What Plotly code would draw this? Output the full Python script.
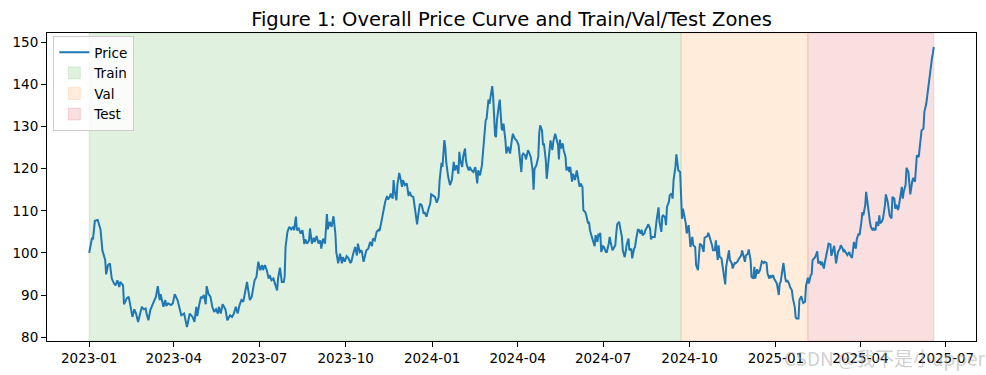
import pandas as pd
import plotly.graph_objects as go

# ---------------- data ----------------
start_date = "2023-01-01"
n_days = 900            # daily series length
train_frac = 0.70
val_frac = 0.15

# day offsets from start_date and the price read at each offset
days_a = [0, 1, 3, 4, 6, 9, 11, 12, 14, 17, 18, 20, 22, 24, 26, 28, 30, 32, 33, 36, 37, 40, 42, 44, 46, 48, 50,
          52, 54, 56, 58, 60, 61, 63, 65, 68, 71, 73, 75, 76, 79, 81, 82, 84, 87, 89, 91, 94, 97, 98, 101, 104,
          105, 107, 110, 112, 114, 115, 117, 119, 120, 122, 124, 125, 127, 129, 131, 133, 135, 137, 138, 140, 142]
price_a = [100.0, 101.0, 103.6, 103.2, 107.6, 107.8, 105.8, 105.6, 100.6, 98.3, 94.9, 97.1, 97.5, 93.9, 92.9,
           92.3, 93.5, 91.9, 93.1, 92.3, 87.8, 89.2, 89.6, 87.2, 84.8, 86.6, 85.5, 83.6, 85.6, 87.2, 86.6, 86.8,
           85.6, 84.0, 86.4, 87.8, 89.6, 92.1, 88.8, 90.2, 87.2, 88.8, 87.4, 88.0, 87.6, 88.0, 90.2, 88.8, 86.4,
           85.2, 85.6, 82.4, 83.4, 85.6, 84.8, 83.6, 87.2, 85.0, 87.6, 89.6, 89.2, 90.0, 87.8, 92.1, 90.2, 89.6,
           87.2, 86.0, 86.6, 85.6, 87.2, 85.6, 87.8]

days_b = [145, 147, 150, 152, 154, 156, 158, 160, 162, 164, 166, 168, 169, 171, 173, 175, 176, 178, 180, 182,
          184, 185, 187, 189, 191, 192, 194, 196, 198, 200, 201, 203, 205, 207, 208, 209, 211, 213, 215, 217,
          218, 220, 221, 223, 225, 227, 229, 230, 232, 234, 235, 237, 239, 240, 242, 244, 246, 247, 249, 251,
          253, 254, 256, 258, 260, 262, 263, 265, 267, 269, 270, 272, 274, 276, 278, 279, 281, 283, 285, 286,
          288, 290, 292, 294, 295, 297]
price_b = [86.6, 84.0, 85.2, 84.8, 85.6, 87.2, 85.6, 87.6, 88.8, 88.4, 90.4, 93.1, 91.5, 88.8, 89.6, 91.9, 93.5,
           94.3, 97.9, 95.9, 97.1, 95.9, 97.1, 95.9, 93.9, 94.7, 93.5, 93.9, 92.7, 91.1, 93.9, 96.5, 93.1, 93.1,
           94.3, 101.4, 105.0, 106.2, 105.6, 106.2, 105.4, 108.6, 105.4, 105.8, 104.6, 105.4, 102.1, 103.2, 102.2,
           103.0, 105.8, 102.2, 103.6, 102.6, 104.0, 102.2, 103.0, 101.0, 103.4, 102.2, 109.2, 105.6, 107.4, 106.2,
           108.7, 104.6, 100.2, 97.5, 99.8, 97.5, 99.0, 97.9, 99.2, 98.7, 97.6, 97.9, 99.8, 101.4, 99.4, 102.2,
           100.2, 100.6, 97.9, 99.8, 100.6, 101.0]

days_c = [299, 301, 302, 304, 306, 308, 309, 311, 313, 315, 317, 318, 320, 321, 323, 324, 325, 327, 328, 330,
          331, 333, 334, 336, 338, 340, 341, 343, 345, 347, 349, 350, 352, 354, 356, 357, 359, 361, 363, 364,
          366, 368, 370, 372, 373, 375, 376, 378, 379, 380, 382, 384, 386, 388, 389, 391, 393, 394, 395, 397,
          398, 400, 401, 402, 404, 405, 407, 409, 411, 412, 413, 414, 416, 418, 419, 420, 422, 423, 424, 425,
          426, 428, 429, 430, 431, 432, 433, 434, 436, 437, 438, 439, 440, 441, 443, 444, 446, 447, 448, 450, 451]
price_c = [102.6, 101.6, 103.4, 103.0, 105.0, 105.5, 105.2, 107.4, 110.1, 112.1, 113.5, 112.7, 113.3, 114.1,
           112.9, 117.3, 114.9, 112.5, 116.1, 119.0, 118.0, 115.7, 117.3, 116.1, 116.5, 113.5, 114.5, 113.5,
           113.3, 109.3, 106.8, 108.6, 111.7, 111.3, 109.3, 109.7, 108.6, 110.3, 111.7, 113.9, 113.5, 113.3,
           111.9, 113.3, 117.3, 121.4, 120.4, 126.8, 125.2, 121.6, 118.2, 116.1, 117.3, 121.6, 119.6, 120.8,
           118.8, 124.0, 122.0, 120.4, 122.8, 124.8, 122.0, 120.8, 119.6, 120.4, 119.6, 119.2, 120.4, 119.0,
           116.5, 119.6, 118.4, 120.8, 123.2, 127.5, 131.5, 131.9, 133.9, 136.4, 135.4, 137.8, 139.6, 137.0,
           132.3, 127.9, 127.5, 131.5, 135.0, 136.4, 133.1, 129.5, 129.1, 130.7, 126.8, 123.6, 125.2, 124.0,
           123.6, 127.1, 128.3]

days_d = [453, 455, 457, 458, 460, 461, 462, 464, 465, 467, 468, 470, 472, 473, 474, 476, 478, 479, 480, 482,
          483, 484, 486, 487, 489, 490, 491, 493, 494, 496, 497, 499, 500, 501, 502, 504, 505, 507, 508, 510,
          511, 512, 514, 515, 517, 518, 519, 521, 522, 523, 525, 526, 528, 529, 531, 532, 533, 535, 536, 538,
          539, 541, 542, 543, 544, 545, 547, 548, 550, 551, 553, 554, 555, 557, 558, 560, 561, 562, 564, 565,
          567, 568, 570, 571, 572, 574, 575, 577, 578, 580, 581, 582, 584, 585, 587, 588, 589, 591, 592, 594,
          595, 597, 598, 599, 601]
price_d = [127.1, 126.7, 125.6, 123.6, 119.2, 123.2, 123.6, 123.2, 122.2, 124.4, 124.0, 122.8, 119.6, 115.0,
           120.0, 120.8, 122.8, 128.3, 130.3, 129.1, 125.6, 126.0, 122.0, 117.6, 122.4, 124.0, 126.7, 124.4,
           126.4, 128.3, 127.1, 125.6, 122.2, 126.9, 124.8, 126.0, 124.4, 122.8, 119.6, 120.4, 119.2, 120.4,
           116.9, 118.8, 117.3, 118.4, 119.6, 116.9, 115.7, 116.5, 115.7, 110.1, 109.7, 109.0, 107.0, 107.4,
           105.4, 103.8, 103.0, 101.6, 104.2, 102.6, 104.6, 103.8, 104.8, 100.2, 101.6, 101.4, 100.2, 100.2,
           102.2, 103.8, 102.6, 100.6, 101.0, 101.8, 104.6, 106.8, 107.4, 106.3, 103.8, 100.6, 99.0, 100.2,
           101.8, 103.4, 100.6, 101.0, 98.7, 101.0, 101.4, 103.0, 105.5, 105.5, 104.6, 105.5, 104.2, 104.6,
           105.4, 106.2, 106.8, 105.8, 103.2, 103.8, 103.8]

days_e = [602, 604, 606, 607, 609, 610, 611, 613, 614, 615, 617, 618, 620, 621, 622, 624, 625, 626, 627, 629,
          630, 631, 632, 633, 635, 636, 638, 639, 640, 642, 643, 645, 646, 648, 649, 650, 652, 654, 655, 656,
          658, 659, 661, 663, 664, 666, 667, 669, 670, 671, 673, 675, 677, 678, 680, 681, 682, 684, 685, 687,
          688, 690, 691, 692, 694, 695, 697, 698, 699, 701, 702, 704, 705, 707, 708, 709, 711, 712, 714, 715,
          716, 718, 719, 721, 722, 724, 725, 726, 728, 729, 731, 732, 734, 735, 736, 738, 739, 741, 742, 743,
          745, 746, 748, 749, 751, 752, 753, 755, 756, 758, 759, 760]
price_e = [103.8, 107.8, 110.8, 107.4, 105.0, 108.7, 108.9, 108.4, 106.6, 110.9, 112.1, 113.7, 114.1, 112.9,
           117.3, 120.4, 123.4, 121.6, 119.6, 119.2, 113.3, 108.1, 110.5, 109.3, 107.0, 104.6, 106.6, 104.2,
           101.4, 103.8, 101.8, 101.4, 97.1, 95.9, 98.3, 102.2, 101.8, 100.2, 103.6, 103.8, 104.0, 104.8, 103.4,
           101.8, 100.6, 100.6, 103.0, 98.3, 101.8, 99.1, 98.7, 95.9, 92.5, 96.7, 99.4, 100.6, 98.3, 97.5, 96.3,
           97.6, 97.5, 97.9, 98.4, 98.7, 99.4, 100.6, 99.1, 97.9, 99.4, 99.8, 100.8, 98.3, 94.3, 93.9, 96.7,
           93.9, 96.1, 95.1, 95.9, 96.7, 98.0, 97.6, 97.9, 97.6, 95.1, 93.9, 94.7, 94.1, 94.7, 93.9, 93.1, 92.7,
           90.0, 92.7, 93.1, 95.9, 97.6, 93.9, 93.1, 93.5, 92.7, 91.9, 91.1, 89.2, 87.2, 84.7, 84.4, 84.4, 88.8,
           89.7, 88.6, 88.1]

days_f = [762, 763, 765, 766, 768, 769, 770, 772, 773, 775, 776, 778, 779, 780, 782, 783, 785, 786, 787, 789,
          790, 792, 793, 795, 796, 797, 799, 800, 802, 803, 804, 806, 807, 809, 810, 812, 813, 814, 816, 817,
          819, 820, 822, 823, 824, 826, 827, 828, 830, 831, 832, 834, 835, 837, 838, 840, 841, 842, 844, 845,
          847, 848, 850, 851, 852, 854, 855, 857, 858, 859, 861, 862, 864, 865, 866, 867, 869, 870, 872, 873,
          874, 876, 877, 879, 880, 881, 883, 884, 885, 886, 888, 889, 891, 892, 894, 895, 896, 897, 898, 899]
price_f = [88.4, 92.2, 94.1, 92.7, 94.7, 94.9, 98.3, 98.7, 99.1, 100.4, 97.5, 98.0, 97.1, 97.9, 96.3, 97.7,
           99.5, 101.0, 102.2, 102.0, 99.3, 101.0, 101.7, 97.5, 99.5, 100.2, 101.0, 101.8, 101.0, 100.2, 100.6,
           99.8, 99.5, 100.2, 99.5, 98.8, 100.6, 102.6, 101.0, 103.2, 104.6, 104.2, 107.4, 109.7, 108.9, 111.3,
           114.5, 112.5, 109.7, 107.4, 106.2, 105.4, 105.8, 105.4, 107.4, 106.4, 108.9, 107.0, 107.5, 108.2,
           111.3, 113.9, 112.1, 110.5, 108.9, 108.2, 113.3, 112.9, 110.5, 111.5, 110.2, 111.3, 114.5, 115.7,
           112.9, 114.5, 116.1, 120.2, 119.2, 115.3, 113.9, 116.9, 117.8, 116.9, 120.0, 123.2, 122.8, 125.2,
           127.1, 129.1, 129.5, 133.5, 135.4, 137.4, 140.2, 143.0, 145.5, 146.1, 147.3, 148.9]

x_tick_dates = ["2023-01-01", "2023-04-01", "2023-07-01", "2023-10-01", "2024-01-01", "2024-04-01",
                "2024-07-01", "2024-10-01", "2025-01-01", "2025-04-01", "2025-07-01"]
x_tick_labels = ["2023-01", "2023-04", "2023-07", "2023-10", "2024-01", "2024-04",
                 "2024-07", "2024-10", "2025-01", "2025-04", "2025-07"]
y_ticks = [80, 90, 100, 110, 120, 130, 140, 150]

zone_names = ["Train", "Val", "Test"]
zone_colors = ["rgba(44,160,44,0.15)", "rgba(255,127,14,0.15)", "rgba(214,39,40,0.15)"]

# ---------------- assemble ----------------
day_offset = days_a + days_b + days_c + days_d + days_e + days_f
price = price_a + price_b + price_c + price_d + price_e + price_f
assert len(day_offset) == len(price), (len(day_offset), len(price))

t0 = pd.Timestamp(start_date)
dates = t0 + pd.to_timedelta(day_offset, unit="D")
all_dates = pd.date_range(start_date, periods=n_days, freq="D")
i_train = int(n_days * train_frac)
i_val = i_train + int(n_days * val_frac)
bounds = [(all_dates[0], all_dates[i_train]),
          (all_dates[i_train], all_dates[i_val]),
          (all_dates[i_val], all_dates[-1])]

span = all_dates[-1] - all_dates[0]
x_range = [all_dates[0] - 0.05 * span, all_dates[-1] + 0.05 * span]
ymin, ymax = min(price), max(price)
y_range = [ymin - 0.05 * (ymax - ymin), ymax + 0.05 * (ymax - ymin)]

FONT = "DejaVu Sans"

fig = go.Figure()
fig.add_trace(go.Scatter(x=dates, y=price, mode="lines", name="Price",
                         line=dict(color="#1f77b4", width=2)))

for name, color, (a, b) in zip(zone_names, zone_colors, bounds):
    fig.add_vrect(x0=a, x1=b, fillcolor=color, layer="below",
                  line=dict(color=color, width=1), showlegend=True, name=name)

fig.update_layout(
    width=986, height=375,
    margin=dict(l=47, r=10, t=33, b=34, autoexpand=False),
    paper_bgcolor="white", plot_bgcolor="white",
    font=dict(family=FONT, size=13.5, color="black"),
    title=dict(text="Figure 1: Overall Price Curve and Train/Val/Test Zones",
               x=0.5, xref="paper", y=1 - 19 / 375, yref="container", yanchor="middle",
               font=dict(family=FONT, size=19.5, color="black")),
    legend=dict(x=0.0068, y=0.99, xanchor="left", yanchor="top",
                bgcolor="rgba(255,255,255,0.8)", bordercolor="#cccccc", borderwidth=1,
                font=dict(family=FONT, size=13.5, color="black"),
                tracegroupgap=0, itemwidth=30),
    showlegend=True,
)
fig.update_xaxes(range=x_range, tickvals=x_tick_dates, ticktext=x_tick_labels, automargin=False,
                 showgrid=False, zeroline=False, showline=True, mirror=True,
                 linecolor="black", linewidth=1, ticks="outside", ticklen=5,
                 tickcolor="black", tickwidth=1)
fig.update_yaxes(range=y_range, tickvals=y_ticks, automargin=False,
                 showgrid=False, zeroline=False, showline=True, mirror=True,
                 linecolor="black", linewidth=1, ticks="outside", ticklen=5,
                 tickcolor="black", tickwidth=1)

fig.add_annotation(text="CSDN @我不是小upper", xref="paper", yref="paper",
                   x=(988 - 47) / 929, y=(341 - 357) / 308, xanchor="right", yanchor="middle",
                   showarrow=False,
                   font=dict(family="Noto Sans CJK SC", size=19, color="rgba(170,170,170,0.55)"))

fig.write_html("out.html", config={"displayModeBar": False},
               post_script="document.body.style.margin='0';document.body.style.overflow='hidden';")
